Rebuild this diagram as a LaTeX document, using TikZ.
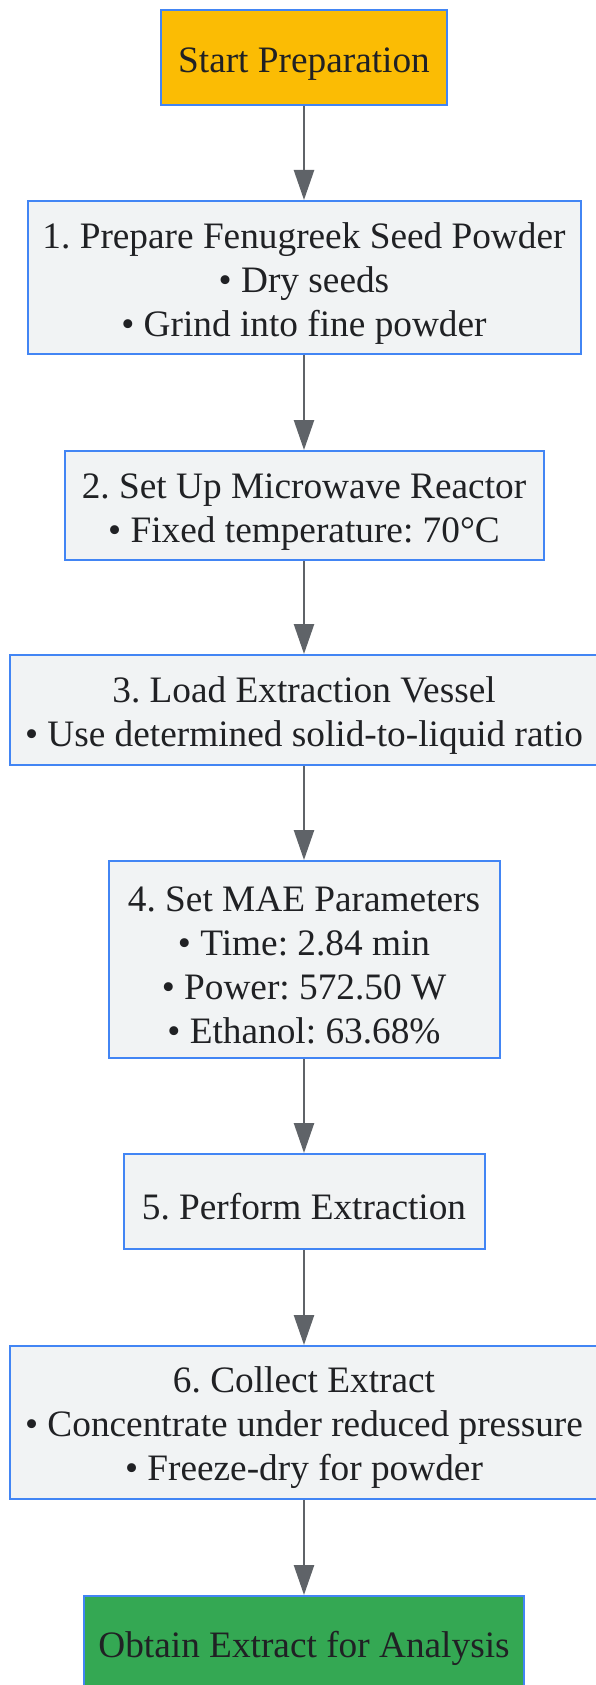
\documentclass[tikz,border=0pt]{standalone}
\usepackage{fontspec}
\setmainfont{Liberation Serif}
\usepackage{xcolor}
\usepackage{tikz}
\usetikzlibrary{arrows.meta}
\definecolor{frameblue}{HTML}{4285F4}
\definecolor{stepfill}{HTML}{F1F3F4}
\definecolor{startyellow}{HTML}{FBBC04}
\definecolor{endgreen}{HTML}{34A853}
\definecolor{arrowgray}{HTML}{5F6368}
\definecolor{inkgray}{HTML}{202124}
\frenchspacing
% pushes the text block a little down in its box
\newcommand*{\lift}{\rule{0pt}{37pt}}

\tikzset{
  box/.style={draw=frameblue, line width=2pt, fill=stepfill, inner sep=0pt,
    align=center, text=inkgray, font=\fontsize{37.3}{44}\selectfont},
  flow/.style={-{Triangle[length=30pt,width=20pt]}, line width=2.5pt, draw=arrowgray}
}

\begin{document}
\begin{tikzpicture}[x=1pt, y=-1pt]
 \useasboundingbox (0,0) rectangle (596,1685);
\node[box, fill=startyellow, minimum width=286pt, minimum height=95pt] (start) at (304,57.5) {\lift Start Preparation};
\node[box, minimum width=553pt, minimum height=153pt] (prep) at (304,277.5)
  {\lift 1. Prepare Fenugreek Seed Powder\\ • Dry seeds\\ • Grind into fine powder};
\node[box, minimum width=479pt, minimum height=109pt] (reactor) at (304,505.5)
  {\lift 2. Set Up Microwave Reactor\\ • Fixed temperature: 70°C};
\node[box, minimum width=588pt, minimum height=110pt] (vessel) at (304,710)
  {\lift 3. Load Extraction Vessel\\ • Use determined solid-to-liquid ratio};
\node[box, minimum width=391pt, minimum height=197pt] (params) at (304,959.5)
  {\lift 4. Set MAE Parameters\\ • Time: 2.84 min\\ • Power: 572.50 W\\ • Ethanol: 63.68\%};
\node[box, minimum width=361pt, minimum height=95pt] (extract) at (304,1201.5) {\lift 5. Perform Extraction};
\node[box, minimum width=588pt, minimum height=153pt] (collect) at (304,1422.5)
  {\lift 6. Collect Extract\\ • Concentrate under reduced pressure\\ • Freeze-dry for powder};
\node[box, fill=endgreen, minimum width=440pt, minimum height=95pt] (finish) at (304,1643.5) {\lift Obtain Extract for Analysis};
% connectors
\draw[flow] (start) -- (prep);
\draw[flow] (prep) -- (reactor);
\draw[flow] (reactor) -- (vessel);
\draw[flow] (vessel) -- (params);
\draw[flow] (params) -- (extract);
\draw[flow] (extract) -- (collect);
\draw[flow] (collect) -- (finish);
\end{tikzpicture}
\end{document}
